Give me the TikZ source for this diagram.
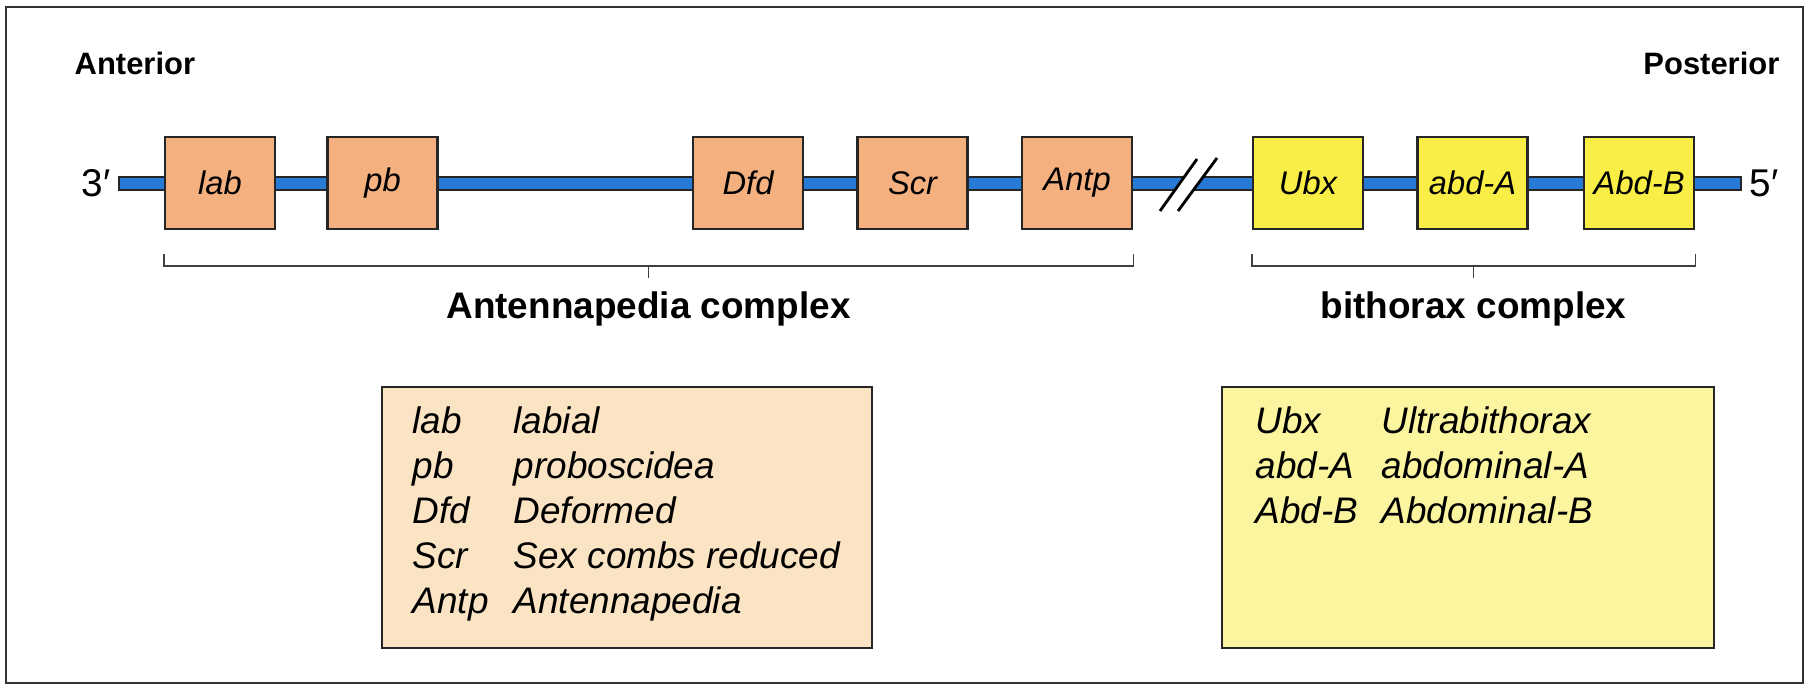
\documentclass[tikz,border=0pt]{standalone}
\usepackage{fontspec}
\setmainfont{Liberation Sans}
\usetikzlibrary{positioning,calc}

\definecolor{dnablue}{RGB}{40,122,215}
\definecolor{antpfill}{RGB}{245,176,128}
\definecolor{bxfill}{RGB}{248,238,70}
\definecolor{antplegend}{RGB}{251,228,196}
\definecolor{bxlegend}{RGB}{252,245,160}

\tikzset{
	gene/.style={draw=black!85, line width=0.7pt, minimum width=1.1cm, minimum height=0.92cm,
		inner sep=0pt, font=\fontsize{9.3}{11}\selectfont\itshape},
	antpgene/.style={gene, fill=antpfill},
	bxgene/.style={gene, fill=bxfill},
	legendbox/.style={draw=black!85, line width=0.7pt},
	legendtext/.style={anchor=base west, inner sep=0pt, font=\fontsize{10.5}{12}\selectfont\itshape},
	bracket/.style={draw=black!75, line width=0.5pt},
	complexname/.style={anchor=base, inner sep=0pt, font=\fontsize{10.5}{12}\selectfont\bfseries},
	sidename/.style={inner sep=0pt, font=\fontsize{8.8}{10}\selectfont\bfseries},
	endname/.style={inner sep=0pt, font=\fontsize{11}{13}\selectfont}
}

\begin{document}
\begin{tikzpicture}[x=0.01cm,y=-0.01cm]
	\useasboundingbox (0,0) rectangle (1818,685);
	
	% frame
	\draw[black!80, line width=0.6pt] (6,7) rectangle (1803,683);
	
	\node[sidename, anchor=base west] (ant) at (74,75) {Anterior};
	\node[sidename, anchor=base east] (post) at (1780,75) {Posterior};
	
	% DNA
	\coordinate (l3) at (119,183.5);
	\coordinate (l5) at (1741,183.5);
	\draw[draw=black!85, fill=dnablue, line width=0.5pt] (119,177) rectangle (1741,190);
	\node[endname, left=8 of l3] (three) {3′};
	\node[endname, right=8 of l5] (five) {5′};
	
	% break
	\fill[white] (1160,211) -- (1197,159) -- (1217,158) -- (1178,211) -- cycle;
	\draw[black, line width=0.8pt] (1160,211) -- (1197,159)
								   (1178,211) -- (1217,158);
	
	% Antennapedia genes
	\node[antpgene] (lab) at (220,183) {lab};
	\node[antpgene, right=0.5cm of lab] (pb) {pb};
	\node[antpgene] (Dfd) at (748,183) {Dfd};
	\node[antpgene, right=0.52cm of Dfd] (Scr) {Scr};
	\node[antpgene, right=0.52cm of Scr] (Antp) {Antp};
	
	% bithorax genes
	\node[bxgene] (Ubx) at (1308,183) {Ubx};
	\node[bxgene, right=0.52cm of Ubx] (abdA) {abd-A};
	\node[bxgene, right=0.54cm of abdA] (AbdB) {Abd-B};
	
	% brackets
	\draw[bracket] (lab.south west) ++(0,24) -- ++(0,12) coordinate (antL)
		-- (antL -| Antp.south east) coordinate (antR) -- ++(0,-12);
	\draw[bracket] ($(antL)!0.5!(antR)$) coordinate (antM) -- ++(0,12);
	\node[complexname] (antc) at ($(antM)+(0,52)$) {Antennapedia complex};
	
	\draw[bracket] (Ubx.south west) ++(0,24) -- ++(0,12) coordinate (bxL)
		-- (bxL -| AbdB.south east) coordinate (bxR) -- ++(0,-12);
	\draw[bracket] ($(bxL)!0.5!(bxR)$) coordinate (bxM) -- ++(0,12);
	\node[complexname] (bxc) at ($(bxM)+(0,52)$) {bithorax complex};
	
	% legends
	\draw[legendbox, fill=antplegend] (382,387) rectangle (872,648);
	\foreach \abbr/\full [count=\i] in {lab/labial, pb/proboscidea, Dfd/Deformed,
			Scr/Sex combs reduced, Antp/Antennapedia}{
		\node[legendtext] (antab\i) at (412,{388+45*\i}) {\abbr};
		\node[legendtext] (antfull\i) at (513,{388+45*\i}) {\full};
	}
	
	\draw[legendbox, fill=bxlegend] (1222,387) rectangle (1714,648);
	\foreach \abbr/\full [count=\i] in {Ubx/Ultrabithorax, abd-A/abdominal-A,
			Abd-B/Abdominal-B}{
		\node[legendtext] (bxab\i) at (1255,{388+45*\i}) {\abbr};
		\node[legendtext] (bxfull\i) at (1381,{388+45*\i}) {\full};
	}
\end{tikzpicture}
\end{document}
